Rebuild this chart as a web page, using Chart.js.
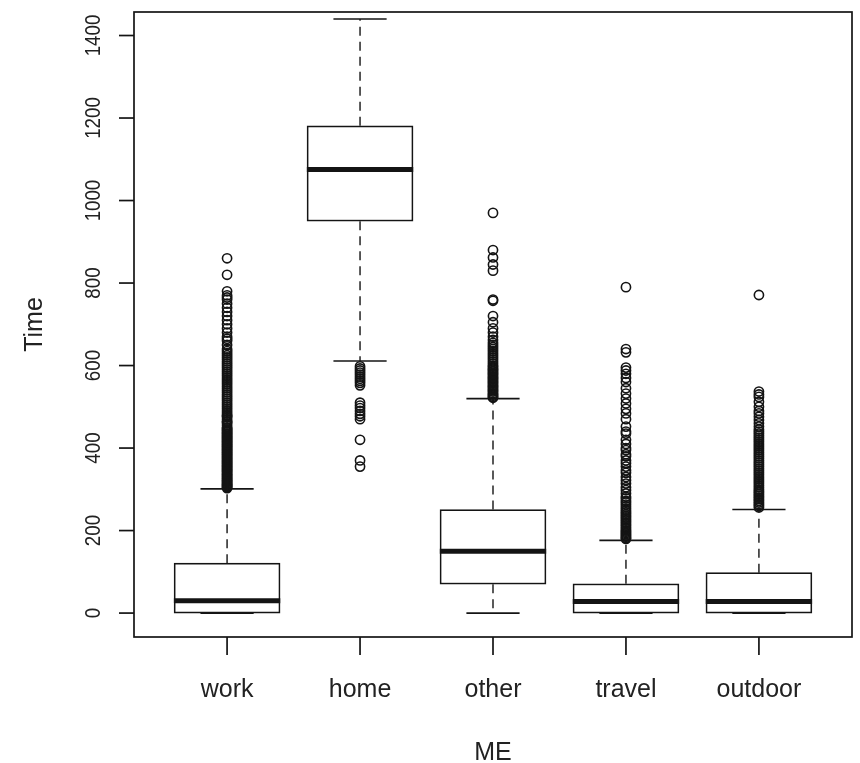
<!DOCTYPE html>
<html>
<head>
<meta charset="utf-8">
<script src="https://cdn.jsdelivr.net/npm/chart.js@4.4.0/dist/chart.umd.min.js"></script>
<style>
    html, body { margin: 0; padding: 0; background: #fff; }
</style>
</head>
<body>
<canvas id="grafico" width="860" height="763"></canvas>
<script>
const categories = ['work', 'home', 'other', 'travel', 'outdoor'];

// box statistics
const lowerWhisker = [0, 611, 0, 0, 0];
const q1 = [0, 950, 70, 0, 0];
const medians = [30, 1075, 150, 28, 28];
const q3 = [121, 1181, 251, 71, 98];
const upperWhisker = [301, 1440, 520, 176, 251];

const yTicks = [0, 200, 400, 600, 800, 1000, 1200, 1400];

// outliers per category
const outWork = [303, 305, 307, 309, 311, 313, 315, 318, 320, 322, 325, 327, 330, 332, 335, 337,
    340, 343, 345, 348, 350, 353, 355, 358, 360, 363, 365, 368, 370, 373, 375, 378, 380, 383,
    385, 388, 390, 393, 395, 398, 400, 403, 405, 408, 410, 413, 415, 418, 420, 423, 425, 428,
    430, 433, 435, 438, 440, 443, 445, 448, 450, 455, 460, 463, 465, 470, 475, 478, 480, 485,
    490, 495, 500, 505, 510, 515, 520, 525, 530, 535, 540, 545, 550, 555, 560, 565, 570, 575,
    580, 585, 590, 595, 600, 605, 610, 615, 620, 625, 630, 635, 640, 650, 660, 665, 670, 680,
    690, 700, 710, 720, 730, 740, 750, 760, 765, 770, 780, 820, 860];
const outHome = [598, 593, 588, 583, 578, 573, 568, 563, 558, 552, 510, 503, 497, 490, 483,
    477, 470, 420, 370, 355];
const outOther = [970, 880, 862, 845, 830, 760, 757, 720, 705, 690, 680, 670, 662, 655, 650,
    645, 640, 635, 630, 625, 620, 615, 610, 605, 600, 597, 593, 590, 587, 583, 580, 577, 573,
    570, 567, 563, 560, 557, 553, 550, 547, 543, 540, 537, 533, 530, 527, 524, 522];
const outTravel = [790, 640, 632, 595, 588, 580, 570, 560, 545, 532, 520, 508, 495, 484, 470,
    452, 440, 435, 420, 410, 400, 395, 385, 380, 370, 363, 355, 346, 340, 330, 322, 314, 305,
    298, 290, 282, 278, 272, 268, 263, 258, 253, 248, 244, 240, 236, 232, 228, 224, 220, 216,
    212, 208, 204, 200, 197, 194, 191, 188, 185, 182, 180];
const outOutdoor = [771, 537, 530, 524, 512, 500, 490, 484, 476, 468, 460, 452, 445, 440, 435,
    430, 425, 420, 415, 410, 405, 400, 395, 390, 385, 380, 375, 370, 365, 360, 355, 350, 345,
    340, 335, 330, 325, 320, 315, 310, 305, 300, 296, 292, 288, 284, 280, 276, 272, 268, 264,
    260, 256];

const outliers = [outWork, outHome, outOther, outTravel, outOutdoor];

const ink = '#141414';
const fontFamily = '"Liberation Sans", Arial, sans-serif';

function seg(ctx, x1, y1, x2, y2) {
    ctx.beginPath();
    ctx.moveTo(x1, y1);
    ctx.lineTo(x2, y2);
    ctx.stroke();
}

// text with optional rotation and stretch
function label(ctx, text, x, y, size, rot, sx, sy, align, base) {
    ctx.save();
    ctx.translate(x, y);
    ctx.rotate(rot);
    ctx.scale(sx, sy);
    ctx.font = size + 'px ' + fontFamily;
    ctx.fillStyle = '#222';
    ctx.textAlign = align;
    ctx.textBaseline = base;
    ctx.fillText(text, 0, 0);
    ctx.restore();
}

const boxPlugin = {
    id: 'boxplot',
    beforeDatasetsDraw(chart) {
        const ctx = chart.ctx;
        const x = chart.scales.x;
        const y = chart.scales.y;
        ctx.save();
        ctx.strokeStyle = ink;
        categories.forEach((c, i) => {
            const px = x.getPixelForValue(i + 1);
            const half = x.getPixelForValue(i + 1.2) - px;
            ctx.lineWidth = 1.4;
            ctx.setLineDash([9, 6]);
            seg(ctx, px, y.getPixelForValue(q3[i]), px, y.getPixelForValue(upperWhisker[i]));
            seg(ctx, px, y.getPixelForValue(q1[i]), px, y.getPixelForValue(lowerWhisker[i]));
            ctx.setLineDash([]);
            ctx.lineWidth = 1.7;
            seg(ctx, px - half, y.getPixelForValue(upperWhisker[i]), px + half, y.getPixelForValue(upperWhisker[i]));
            seg(ctx, px - half, y.getPixelForValue(lowerWhisker[i]), px + half, y.getPixelForValue(lowerWhisker[i]));
        });
        ctx.restore();
    },
    afterDatasetsDraw(chart) {
        const ctx = chart.ctx;
        const x = chart.scales.x;
        const y = chart.scales.y;
        const a = chart.chartArea;
        ctx.save();
        ctx.strokeStyle = ink;

        // medians
        ctx.lineWidth = 5;
        categories.forEach((c, i) => {
            const px = x.getPixelForValue(i + 1);
            const half = x.getPixelForValue(i + 1.4) - px;
            const py = y.getPixelForValue(medians[i]);
            seg(ctx, px - half, py, px + half, py);
        });

        // frame
        ctx.lineWidth = 1.7;
        ctx.strokeRect(a.left, a.top, a.right - a.left, a.bottom - a.top);

        // y axis
        yTicks.forEach(v => {
            const py = y.getPixelForValue(v);
            seg(ctx, a.left - 15, py, a.left, py);
            label(ctx, String(v), 100, py, 22, -Math.PI / 2, 0.85, 1, 'center', 'alphabetic');
        });

        // x axis
        categories.forEach((c, i) => {
            const px = x.getPixelForValue(i + 1);
            seg(ctx, px, a.bottom, px, a.bottom + 18);
            label(ctx, c, px, 697, 25, 0, 1, 1, 'center', 'alphabetic');
        });

        // axis titles
        label(ctx, 'ME', (a.left + a.right) / 2, 760, 25, 0, 1, 1, 'center', 'alphabetic');
        label(ctx, 'Time', 42, (a.top + a.bottom) / 2, 25, -Math.PI / 2, 1, 1, 'center', 'alphabetic');
        ctx.restore();
    }
};

const boxData = categories.map((c, i) => ({ x: i + 1, y: [q1[i], q3[i]] }));
const outlierData = [];
outliers.forEach((list, i) => {
    list.forEach(v => outlierData.push({ x: i + 1, y: v }));
});

const config = {
    type: 'bar',
    data: {
        datasets: [{
            type: 'bar',
            label: 'box',
            data: boxData,
            backgroundColor: '#ffffff',
            borderColor: ink,
            borderWidth: 1.7,
            borderSkipped: false,
            barThickness: 106,
        },
        {
            type: 'scatter',
            label: 'outliers',
            data: outlierData,
            pointStyle: 'circle',
            pointRadius: 4.6,
            pointBorderWidth: 1.6,
            pointBorderColor: ink,
            pointBackgroundColor: 'rgba(0,0,0,0)',
        }]
    },
    options: {
        responsive: false,
        animation: false,
        layout: { padding: { left: 134, top: 12, right: 8, bottom: 126 } },
        plugins: { legend: { display: false }, tooltip: { enabled: false } },
        scales: {
            x: { type: 'linear', offset: false, min: 0.3, max: 5.7, display: false },
            y: { type: 'linear', min: -58, max: 1457, display: false }
        }
    },
    plugins: [boxPlugin]
};

const grafico = new Chart(document.getElementById('grafico'), config);
</script>
</body>
</html>
